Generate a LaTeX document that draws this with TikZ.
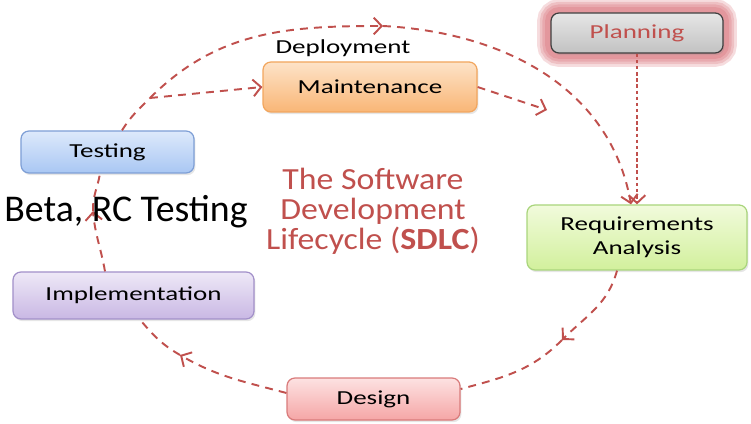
\documentclass[tikz,border=0pt]{standalone}
\usepackage{fontspec}
\setmainfont{Carlito}
\newfontfamily\widefont[FakeStretch=1.36]{Carlito}
\newfontfamily\titlefont[FakeStretch=1.1]{Carlito}
\usetikzlibrary{arrows.meta,shadows,backgrounds}

\definecolor{sdlcred}{HTML}{C0504D}
\definecolor{glowred}{HTML}{D0505A}
\definecolor{planTop}{HTML}{E6E6E6}
\definecolor{planBot}{HTML}{C2C2C2}
\definecolor{planLine}{HTML}{3F3F3F}
\definecolor{maintTop}{HTML}{FDE3C8}
\definecolor{maintBot}{HTML}{F9B676}
\definecolor{maintLine}{HTML}{F2A65E}
\definecolor{testTop}{HTML}{DDE9FB}
\definecolor{testBot}{HTML}{A9C7F3}
\definecolor{testLine}{HTML}{7E9FD6}
\definecolor{reqTop}{HTML}{F1FBDC}
\definecolor{reqBot}{HTML}{D2F09C}
\definecolor{reqLine}{HTML}{A9D57C}
\definecolor{implTop}{HTML}{EEE8F7}
\definecolor{implBot}{HTML}{C9B8E4}
\definecolor{implLine}{HTML}{A290C9}
\definecolor{desTop}{HTML}{FDE2E2}
\definecolor{desBot}{HTML}{F5A6A6}
\definecolor{desLine}{HTML}{D97B7B}

\tikzset{
  phase/.style n args={3}{rounded corners=4.5pt, line width=0.7pt, draw=#3,
    top color=#1, bottom color=#2, inner sep=0pt, align=center,
    font=\widefont\fontsize{11.3}{13.5}\selectfont,
    drop shadow={opacity=0.2, shadow xshift=0.8pt, shadow yshift=-1.2pt}},
  flow/.style={draw=sdlcred, line width=1.1pt, dash pattern=on 4.5pt off 3.5pt},
  finer/.style={draw=sdlcred, line width=1.1pt, dash pattern=on 2pt off 1.5pt}
}

\begin{document}
\begin{tikzpicture}[>={Straight Barb[length=4.5pt,width=9.5pt]}]
\useasboundingbox (0,0) rectangle (15.02,8.46);

% phases
\node[phase={planTop}{planBot}{planLine}, minimum width=3.44cm, minimum height=0.8cm, text=sdlcred] (planning) at (12.74,7.80) {Planning};
\node[phase={maintTop}{maintBot}{maintLine}, minimum width=4.28cm, minimum height=1.0cm] (maint) at (7.40,6.72) {Maintenance};
\node[phase={testTop}{testBot}{testLine}, minimum width=3.46cm, minimum height=0.84cm] (testing) at (2.15,5.42) {Testing};
\node[phase={reqTop}{reqBot}{reqLine}, minimum width=4.40cm, minimum height=1.3cm] (req) at (12.74,3.71) {Requirements\\Analysis};
\node[phase={implTop}{implBot}{implLine}, minimum width=4.82cm, minimum height=0.94cm] (impl) at (2.67,2.55) {Implementation};
\node[phase={desTop}{desBot}{desLine}, minimum width=3.46cm, minimum height=0.84cm] (design) at (7.47,0.48) {Design};

% glow round planning
\begin{scope}[on background layer]
\foreach \g in {15,12,9,6}
  \draw[glowred, opacity=0.2, line width=\g pt, rounded corners=5pt] (planning.south west) rectangle (planning.north east);
\end{scope}

% labels
\node[font=\widefont\fontsize{11.3}{13.5}\selectfont] (deploy) at (6.86,7.50) {Deployment};
\node[text=sdlcred, align=center, font=\titlefont\fontsize{17.5}{17}\selectfont] (title) at (7.46,4.24) {The Software\\Development\\Lifecycle (\textbf{SDLC})};

% turning points
\coordinate (fork) at (3.0,6.5);
\coordinate (top) at (7.66,7.94);
\coordinate (mend) at (10.94,6.26);
\coordinate (rd) at (11.24,1.66);
\coordinate (di) at (3.6,1.36);
\coordinate (it) at (1.86,4.24);

% cycle
\draw[finer,->] (planning.south) -- (req.north);
\draw[flow,->] ([xshift=-0.4cm]req.south) to[out=-105,in=45] (rd);
\draw[flow] (rd) to[out=-135,in=15] ([yshift=0.2cm]design.east);
\draw[flow,->] ([yshift=0.12cm]design.west) to[out=165,in=-30] (di);
\draw[flow] (di) to[out=150,in=-50] ([xshift=0.13cm]impl.south);
\draw[flow,->] ([xshift=-0.57cm]impl.north) to[out=100,in=-85] (it);
\draw[flow] (it) to[out=92,in=-100] ([xshift=-0.15cm]testing.south);
\draw[flow] ([xshift=0.29cm]testing.north) to[out=58,in=-135] (fork);
\draw[flow,->] (fork) to[out=45,in=180] (top);
\draw[flow,->] (top) to[out=-3,in=100] ([xshift=-0.12cm]req.north);
\draw[flow,->] (fork) -- (maint.west);
\draw[flow,->] (maint.east) -- (mend);

\node[font=\fontsize{21.5}{24}\selectfont] (beta) at (2.52,4.22) {Beta, RC Testing};
\end{tikzpicture}
\end{document}
